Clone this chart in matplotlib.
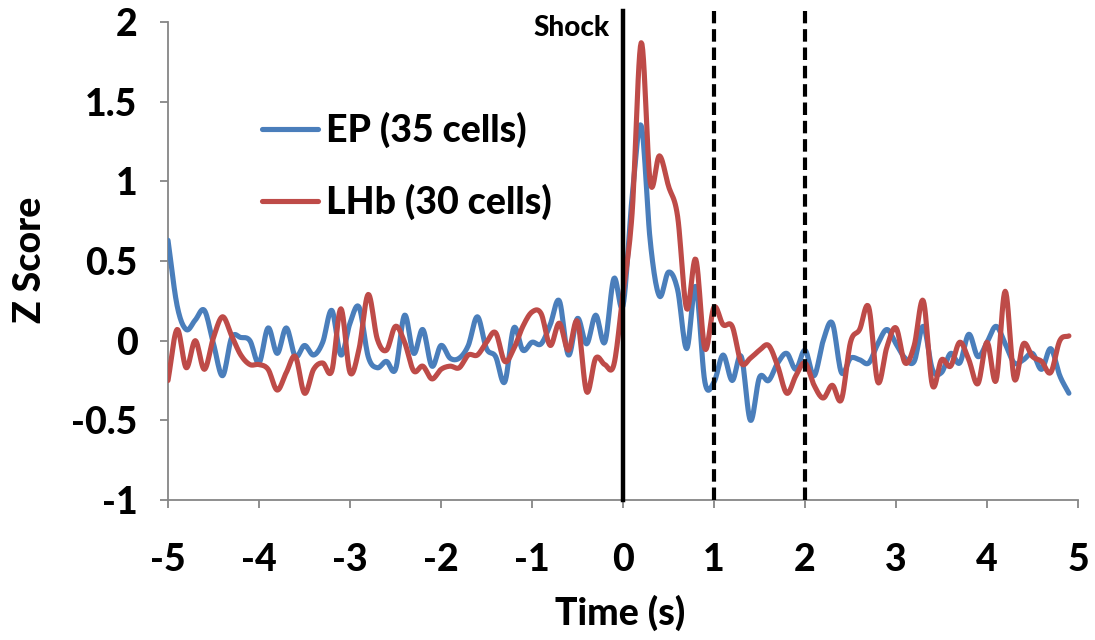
import numpy as np
import matplotlib
matplotlib.use("Agg")
import matplotlib.pyplot as plt

# ---- data ----
time_s = [round(-5.0 + 0.1 * i, 1) for i in range(100)]

ep_z = [0.63, 0.22, 0.07, 0.13, 0.19, -0.02, -0.22, 0.02, 0.02, 0.00,
        -0.14, 0.08, -0.08, 0.08, -0.10, -0.03, -0.09, -0.01, 0.19, -0.09,
        0.11, 0.21, -0.10, -0.17, -0.13, -0.18, 0.16, -0.08, 0.07, -0.16,
        -0.03, -0.11, -0.11, -0.03, 0.15, -0.05, -0.10, -0.26, 0.08, -0.06,
        -0.01, -0.02, 0.10, 0.25, -0.09, 0.14, -0.02, 0.16, -0.01, 0.39,
        0.22, 0.90, 1.35, 0.62, 0.28, 0.43, 0.32, -0.05, 0.34, -0.26,
        -0.26, -0.09, -0.25, -0.10, -0.50, -0.23, -0.25, -0.14, -0.08, -0.18,
        -0.06, -0.22, 0.00, 0.11, -0.20, -0.11, -0.12, -0.14, -0.02, 0.07,
        -0.02, -0.11, -0.13, 0.09, -0.18, -0.20, -0.08, -0.14, 0.04, -0.10,
        -0.01, 0.09, -0.02, -0.14, -0.12, -0.08, -0.18, -0.05, -0.22, -0.33]

lhb_z = [-0.25, 0.07, -0.17, 0.00, -0.18, 0.02, 0.15, 0.03, -0.09, -0.15,
         -0.15, -0.18, -0.31, -0.20, -0.10, -0.33, -0.18, -0.14, -0.19, 0.20,
         -0.20, -0.05, 0.29, 0.01, -0.06, 0.09, -0.01, -0.19, -0.16, -0.24,
         -0.18, -0.16, -0.17, -0.09, -0.09, -0.01, 0.05, -0.13, -0.05, 0.09,
         0.18, 0.17, -0.03, 0.11, -0.06, 0.12, -0.32, -0.11, -0.15, -0.15,
         0.30, 0.80, 1.87, 0.99, 1.16, 0.97, 0.78, 0.20, 0.51, -0.05,
         0.21, 0.10, 0.09, -0.14, -0.11, -0.06, -0.03, -0.16, -0.33, -0.22,
         -0.14, -0.28, -0.36, -0.28, -0.37, -0.01, 0.07, 0.21, -0.26, -0.04,
         0.08, -0.14, -0.03, 0.25, -0.28, -0.12, -0.16, -0.01, -0.12, -0.27,
         -0.01, -0.25, 0.31, -0.24, -0.02, -0.10, -0.13, -0.20, 0.00, 0.03]

series_labels = ["EP (35 cells)", "LHb (30 cells)"]
x_ticks = [-5, -4, -3, -2, -1, 0, 1, 2, 3, 4, 5]
y_ticks = [-1, -0.5, 0, 0.5, 1, 1.5, 2]
y_tick_labels = ["-1", "-0.5", "0", "0.5", "1", "1.5", "2"]
event_times = [0, 1, 2]


def smooth(x, y, n=12):
    """Catmull-Rom style smoothing for display (like Excel 'smoothed line')."""
    x = np.asarray(x, float)
    y = np.asarray(y, float)
    px = np.concatenate([[2 * x[0] - x[1]], x, [2 * x[-1] - x[-2]]])
    py = np.concatenate([[2 * y[0] - y[1]], y, [2 * y[-1] - y[-2]]])
    xs, ys = [], []
    s = np.linspace(0, 1, n, endpoint=False)
    for i in range(1, len(px) - 2):
        p0x, p1x, p2x, p3x = px[i - 1:i + 3]
        p0y, p1y, p2y, p3y = py[i - 1:i + 3]
        for (pa, pb, pc, pd, out) in ((p0x, p1x, p2x, p3x, xs), (p0y, p1y, p2y, p3y, ys)):
            out.extend(0.5 * ((2 * pb) + (-pa + pc) * s
                              + (2 * pa - 5 * pb + 4 * pc - pd) * s ** 2
                              + (-pa + 3 * pb - 3 * pc + pd) * s ** 3))
    xs.append(x[-1])
    ys.append(y[-1])
    return np.array(xs), np.array(ys)


plt.rcParams['font.family'] = ['Lato', 'DejaVu Sans']
plt.rcParams['axes.unicode_minus'] = False

FS = 27
WEIGHT = 'black'

fig = plt.figure(figsize=(10.95, 6.4), dpi=100)
ax = fig.add_axes([168 / 1095, 1 - 500 / 640, 910 / 1095, 478 / 640])

blue = '#4A7EBB'
red = '#BE4B48'
xs, ys = smooth(time_s, ep_z)
ax.plot(xs, ys, color=blue, lw=3.7, label=series_labels[0], solid_capstyle='round', zorder=3)
xs, ys = smooth(time_s, lhb_z)
ax.plot(xs, ys, color=red, lw=3.7, label=series_labels[1], solid_capstyle='round', zorder=4)

# event lines
ax.plot([event_times[0]] * 2, [-1, 2.07], color='black', lw=3.2, clip_on=False, zorder=5)
for t in event_times[1:]:
    ax.plot([t, t], [-1, 2.07], color='black', lw=3.0, dashes=(3.0, 1.4),
            clip_on=False, zorder=5)

ax.set_xlim(-5, 5)
ax.set_ylim(-1, 2)
ax.set_xticks(x_ticks)
ax.set_xticklabels([str(v) for v in x_ticks])
ax.set_yticks(y_ticks)
ax.set_yticklabels(y_tick_labels)

for side in ('top', 'right'):
    ax.spines[side].set_visible(False)
for side in ('left', 'bottom'):
    ax.spines[side].set_color('#868686')
    ax.spines[side].set_linewidth(1.3)

ax.tick_params(axis='both', direction='out', color='#868686', width=1.3, length=6)
ax.tick_params(axis='x', pad=25, labelsize=FS)
ax.tick_params(axis='y', pad=16, labelsize=FS)
for lab in ax.get_xticklabels() + ax.get_yticklabels():
    lab.set_fontweight(WEIGHT)

fig.text(30 / 1095, 1 - 260 / 640, 'Z Score', rotation=90, ha='center', va='center',
         fontsize=FS, fontweight=WEIGHT)
fig.text(620 / 1095, 1 - 613 / 640, 'Time (s)', ha='center', va='center',
         fontsize=FS, fontweight=WEIGHT)
fig.text(610 / 1095, 1 - 28 / 640, 'Shock', ha='right', va='center',
         fontsize=20, fontweight=WEIGHT)

leg = ax.legend(loc='upper left', bbox_to_anchor=(262 / 1095, 1 - 112 / 640),
                bbox_transform=fig.transFigure, frameon=False,
                handlelength=1.5, handletextpad=0.2, labelspacing=0.95,
                borderpad=0, borderaxespad=0, prop={'weight': WEIGHT, 'size': FS})

fig.savefig('out.png', dpi=100)
